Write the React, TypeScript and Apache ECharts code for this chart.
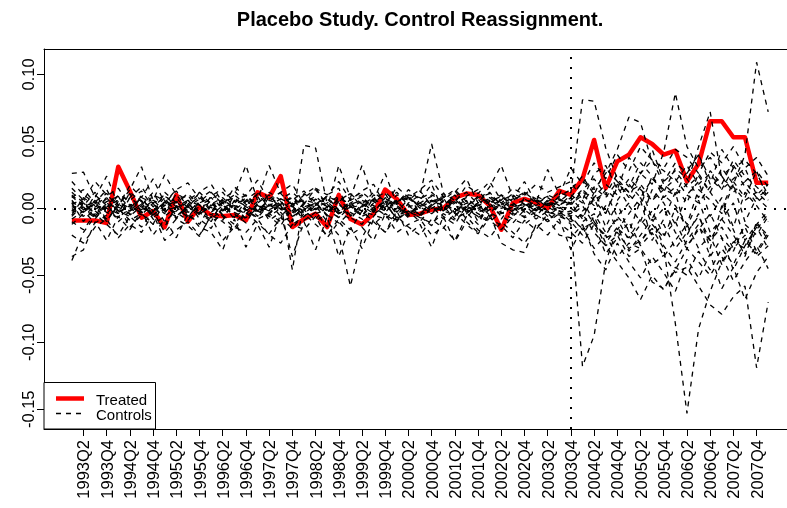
import React, { useEffect, useRef } from "react";
import * as echarts from "echarts";

const quarters = [
  "1993Q1", "1993Q2", "1993Q3", "1993Q4", "1994Q1", "1994Q2", "1994Q3", "1994Q4",
  "1995Q1", "1995Q2", "1995Q3", "1995Q4", "1996Q1", "1996Q2", "1996Q3", "1996Q4",
  "1997Q1", "1997Q2", "1997Q3", "1997Q4", "1998Q1", "1998Q2", "1998Q3", "1998Q4",
  "1999Q1", "1999Q2", "1999Q3", "1999Q4", "2000Q1", "2000Q2", "2000Q3", "2000Q4",
  "2001Q1", "2001Q2", "2001Q3", "2001Q4", "2002Q1", "2002Q2", "2002Q3", "2002Q4",
  "2003Q1", "2003Q2", "2003Q3", "2003Q4", "2004Q1", "2004Q2", "2004Q3", "2004Q4",
  "2005Q1", "2005Q2", "2005Q3", "2005Q4", "2006Q1", "2006Q2", "2006Q3", "2006Q4",
  "2007Q1", "2007Q2", "2007Q3", "2007Q4", "2008Q1",
];

const treatmentQuarter = "2003Q4";
const yTicks = [-0.15, -0.1, -0.05, 0, 0.05, 0.1];

const treated = [
  -0.009, -0.009, -0.009, -0.011, 0.031, 0.013, -0.007, -0.002, -0.014, 0.010,
  -0.010, 0.001, -0.005, -0.006, -0.005, -0.009, 0.012, 0.008, 0.024, -0.014,
  -0.008, -0.004, -0.014, 0.010, -0.008, -0.012, -0.004, 0.014, 0.007, -0.005,
  -0.004, -0.001, 0.000, 0.008, 0.011, 0.010, 0.002, -0.016, 0.004, 0.007,
  0.004, 0.000, 0.013, 0.010, 0.022, 0.051, 0.015, 0.035, 0.040, 0.053,
  0.048, 0.040, 0.043, 0.020, 0.033, 0.065, 0.065, 0.053, 0.053, 0.019, 0.019,
];

const control01 = [
  0.012, 0.004, -0.006, 0.009, 0.015, 0.002, -0.004, 0.010, 0.006, -0.008,
  0.003, 0.011, -0.002, 0.007, 0.013, 0.004, -0.006, 0.009, 0.002, -0.010,
  0.047, 0.045, 0.003, -0.004, 0.006, 0.010, -0.003, 0.008, 0.002, -0.006,
  0.004, 0.009, -0.002, 0.006, 0.012, 0.003, -0.005, 0.008, 0.004, -0.003,
  0.006, 0.002, 0.005,
  0.012, 0.081, 0.080, 0.045, 0.022, 0.012, 0.018, 0.006, 0.014, 0.022,
  0.010, 0.004, 0.016, 0.024, 0.012, 0.020, 0.008, 0.014,
];
const control02 = [
  -0.005, 0.008, 0.002, -0.010, 0.004, 0.011, -0.003, -0.012, 0.006, 0.001,
  -0.007, 0.005, 0.012, 0.003, -0.008, 0.002, 0.009, -0.004, 0.006, -0.010,
  0.004, -0.002, 0.010, 0.015, -0.006, 0.003, 0.012, 0.005, -0.009, 0.004,
  0.010, 0.048, 0.012, -0.004, 0.006, -0.010, 0.003, 0.010, -0.002, 0.005,
  -0.006, 0.004, -0.003,
  -0.008, -0.015, -0.010, -0.022, -0.018, -0.030, -0.024, -0.015, -0.030, -0.086,
  -0.153, -0.090, -0.062, -0.040, -0.025, -0.030, -0.012, -0.020,
];
const control03 = [
  -0.039, -0.018, -0.006, 0.004, -0.010, -0.002, 0.006, -0.008, -0.014, 0.002,
  -0.004, -0.012, 0.003, -0.006, -0.015, -0.002, 0.005, -0.009, -0.003, -0.012,
  -0.006, 0.002, -0.010, -0.020, -0.058, -0.022, -0.006, 0.004, -0.008, -0.002,
  -0.010, 0.001, -0.006, -0.012, 0.002, -0.004, -0.009, -0.016, -0.006, 0.002,
  -0.005, -0.010, -0.004,
  -0.012, -0.118, -0.095, -0.040, -0.015, -0.022, -0.008, -0.020, -0.012, -0.030,
  -0.018, -0.006, -0.024, -0.014, -0.030, -0.020, -0.036, -0.028,
];
const control04 = [
  0.006, -0.004, 0.010, 0.002, -0.007, 0.008, 0.001, -0.005, 0.012, 0.004,
  -0.006, 0.003, -0.010, 0.006, 0.001, -0.008, 0.004, -0.004, 0.004, -0.046,
  0.006, 0.004, -0.005, 0.009, 0.002, -0.006, 0.008, -0.003, 0.006, 0.010,
  -0.004, 0.003, 0.008, -0.006, 0.002, 0.007, -0.003, -0.008, 0.004, -0.002,
  0.003, -0.006, 0.001,
  -0.006, -0.016, -0.010, -0.028, -0.020, -0.036, -0.030, -0.042, -0.035, -0.048,
  -0.044, -0.058, -0.072, -0.079, -0.066, -0.058, -0.119, -0.070,
];
const control05 = [
  0.020, 0.010, 0.004, 0.014, -0.002, 0.008, 0.016, 0.003, -0.004, 0.011,
  0.006, -0.003, 0.009, 0.015, 0.004, 0.010, -0.002, 0.007, 0.012, 0.001,
  0.008, 0.014, 0.003, -0.004, 0.007, 0.012, 0.005, 0.000, 0.010, 0.006,
  0.013, 0.002, 0.008, 0.014, 0.005, -0.002, 0.009, 0.004, 0.011, 0.007,
  0.002, 0.010, 0.006,
  0.004, 0.012, 0.008, 0.018, 0.010, 0.022, 0.014, 0.006, 0.020, 0.028,
  0.016, 0.024, 0.012, 0.030, 0.018, 0.040, 0.109, 0.072,
];
const control06 = [
  -0.002, 0.006, -0.008, 0.003, 0.009, -0.005, 0.002, 0.012, -0.003, 0.005,
  0.010, -0.004, 0.001, -0.009, 0.006, 0.002, 0.011, 0.004, -0.006, 0.003,
  -0.002, 0.007, 0.001, -0.007, 0.004, 0.009, -0.001, 0.005, 0.012, 0.002,
  -0.005, 0.006, 0.002, 0.010, -0.003, 0.004, 0.008, 0.001, 0.006, 0.011,
  0.004, 0.008, 0.002,
  0.010, 0.004, 0.016, 0.008, 0.020, 0.012, 0.026, 0.018, 0.042, 0.086,
  0.046, 0.030, 0.038, 0.024, 0.032, 0.020, 0.028, 0.016,
];
const control07 = [
  0.004, -0.010, 0.001, 0.007, -0.004, 0.012, 0.005, -0.002, 0.008, -0.006,
  0.002, 0.009, -0.003, 0.004, -0.007, 0.006, 0.013, -0.001, 0.003, 0.008,
  -0.004, 0.003, 0.009, -0.002, 0.005, -0.006, 0.004, 0.011, -0.003, 0.007,
  0.002, -0.004, 0.006, 0.003, -0.008, 0.005, 0.012, 0.002, -0.005, 0.008,
  0.001, -0.003, 0.007,
  0.003, 0.010, 0.002, 0.014, 0.006, 0.018, 0.008, 0.022, 0.014, 0.010,
  0.018, 0.046, 0.072, 0.022, 0.016, 0.006, 0.012, 0.004,
];
const control08 = [
  0.010, 0.002, 0.012, -0.004, 0.005, 0.000, 0.009, -0.006, 0.004, 0.013,
  0.001, 0.007, 0.004, -0.005, 0.010, 0.003, -0.003, 0.012, 0.006, -0.002,
  0.011, 0.005, -0.006, 0.008, 0.003, -0.002, 0.010, 0.006, 0.001, -0.007,
  0.007, 0.012, 0.004, -0.003, 0.009, 0.014, 0.002, 0.006, 0.010, 0.003,
  0.009, 0.005, 0.012,
  0.008, 0.020, 0.014, 0.026, 0.044, 0.068, 0.064, 0.034, 0.028, 0.020,
  0.032, 0.018, 0.026, 0.014, 0.022, 0.030, 0.010, 0.018,
];
const control09 = [
  -0.012, -0.004, 0.006, -0.009, 0.002, -0.014, -0.005, 0.004, -0.010, -0.002,
  0.005, -0.008, -0.015, 0.001, -0.004, -0.011, 0.003, -0.006, -0.013, 0.002,
  -0.009, -0.003, -0.014, 0.004, -0.007, -0.012, 0.001, -0.005, -0.010, 0.003,
  -0.006, -0.013, 0.002, -0.008, -0.003, -0.012, 0.004, -0.006, -0.011, -0.001,
  -0.008, -0.002, -0.006,
  -0.010, -0.004, -0.018, -0.028, -0.040, -0.052, -0.068, -0.050, -0.061, -0.044,
  -0.050, -0.032, -0.046, -0.030, -0.042, -0.024, -0.034, -0.020,
];
const control10 = [
  0.026, 0.027, 0.008, 0.024, 0.002, 0.014, 0.031, 0.006, 0.025, 0.010,
  0.000, 0.012, 0.018, 0.004, 0.010, 0.032, 0.006, 0.032, 0.011, 0.002,
  0.010, 0.016, 0.000, 0.032, 0.008, 0.032, 0.006, 0.026, 0.003, 0.014,
  0.006, 0.018, -0.002, 0.012, 0.022, 0.004, 0.016, 0.032, 0.008, 0.020,
  0.004, 0.029, 0.010,
  0.030, 0.018, 0.034, 0.022, 0.040, 0.028, 0.046, 0.036, 0.030, 0.044,
  0.038, 0.026, 0.042, 0.034, 0.046, 0.030, 0.038, 0.024,
];
const control11 = [
  -0.036, -0.031, -0.010, -0.024, -0.006, -0.016, -0.002, -0.020, -0.008, -0.022,
  -0.004, -0.014, -0.018, -0.031, -0.008, -0.029, -0.012, -0.029, -0.004, -0.036,
  -0.010, -0.031, -0.006, -0.036, -0.014, -0.030, -0.008, -0.018, -0.002, -0.020,
  -0.012, -0.029, -0.006, -0.025, -0.010, -0.018, -0.004, -0.026, -0.031, -0.033,
  -0.012, -0.020, -0.008,
  -0.031, -0.014, -0.030, -0.020, -0.036, -0.026, -0.030, -0.055, -0.060, -0.046,
  -0.030, -0.040, -0.050, -0.036, -0.054, -0.040, -0.028, -0.045,
];
const control12 = [
  0.002, -0.003, 0.005, 0.000, -0.004, 0.003, -0.001, 0.006, -0.002, 0.001,
  0.004, -0.005, 0.002, 0.006, -0.001, -0.004, 0.003, 0.000, 0.005, -0.003,
  0.001, 0.004, -0.002, 0.003, -0.005, 0.002, 0.006, -0.001, 0.002, -0.004,
  0.003, 0.000, 0.005, -0.002, 0.004, -0.003, 0.001, 0.006, -0.001, 0.003,
  -0.002, 0.004, 0.000,
  0.004, -0.008, 0.012, -0.004, 0.016, 0.002, -0.010, 0.014, 0.004, -0.012,
  0.010, 0.020, -0.006, 0.008, -0.014, 0.012, 0.002, -0.010,
];
const control13 = [
  -0.006, 0.003, -0.002, -0.008, 0.001, -0.004, 0.004, -0.007, 0.000, -0.003,
  -0.009, 0.001, -0.005, 0.002, -0.003, -0.007, 0.000, -0.004, 0.003, -0.006,
  -0.002, -0.008, 0.002, -0.004, 0.001, -0.006, -0.002, 0.003, -0.007, -0.001,
  -0.005, 0.002, -0.008, -0.001, -0.004, 0.003, -0.006, -0.002, 0.001, -0.007,
  -0.003, 0.001, -0.004,
  -0.002, -0.010, -0.004, -0.018, -0.008, -0.024, -0.012, -0.002, -0.020, -0.010,
  -0.028, -0.016, -0.004, -0.022, -0.032, -0.012, -0.020, -0.006,
];
const control14 = [
  0.008, 0.014, 0.004, -0.002, 0.010, 0.006, 0.013, 0.001, 0.009, 0.004,
  0.011, 0.002, 0.007, 0.012, 0.000, 0.008, 0.004, 0.010, -0.001, 0.006,
  0.013, 0.002, 0.009, 0.005, 0.011, 0.001, 0.007, 0.012, 0.004, 0.009,
  0.000, 0.010, 0.006, 0.013, 0.002, 0.008, 0.011, 0.003, 0.007, 0.012,
  0.005, 0.009, 0.003,
  0.006, 0.014, 0.022, 0.010, 0.026, 0.016, 0.034, 0.024, 0.012, 0.030,
  0.022, 0.008, 0.028, 0.018, 0.036, 0.024, 0.016, 0.008,
];
const control15 = [
  -0.010, -0.016, -0.004, -0.012, -0.020, -0.006, -0.014, -0.002, -0.018, -0.008,
  -0.013, -0.021, -0.005, -0.010, -0.017, -0.003, -0.011, -0.019, -0.007, -0.015,
  -0.004, -0.012, -0.020, -0.008, -0.016, -0.002, -0.010, -0.018, -0.006, -0.014,
  -0.020, -0.008, -0.015, -0.003, -0.012, -0.019, -0.007, -0.013, -0.022, -0.009,
  -0.016, -0.004, -0.011,
  -0.018, -0.026, -0.012, -0.034, -0.022, -0.010, -0.028, -0.018, -0.036, -0.024,
  -0.012, -0.030, -0.020, -0.042, -0.026, -0.014, -0.032, -0.018,
];
const control16 = [
  0.015, 0.006, 0.020, 0.010, 0.002, 0.017, 0.008, 0.022, 0.004, 0.014,
  0.019, 0.007, 0.013, 0.001, 0.016, 0.009, 0.021, 0.005, 0.012, 0.018,
  0.003, 0.015, 0.010, 0.020, 0.006, 0.013, 0.018, 0.002, 0.016, 0.008,
  0.014, 0.021, 0.009, 0.004, 0.017, 0.011, 0.020, 0.006, 0.015, 0.010,
  0.018, 0.012, 0.016,
  0.020, 0.006, 0.026, 0.032, 0.014, 0.038, 0.026, 0.044, 0.020, 0.034,
  0.026, 0.040, 0.018, 0.044, 0.030, 0.036, 0.026, 0.010,
];
const control17 = [
  -0.003, 0.001, -0.008, 0.004, -0.002, -0.006, 0.002, -0.004, 0.005, -0.007,
  0.000, -0.003, 0.006, -0.005, 0.002, -0.001, -0.007, 0.003, -0.002, 0.004,
  -0.006, 0.000, 0.005, -0.003, -0.008, 0.002, -0.004, 0.001, 0.006, -0.005,
  0.001, -0.004, 0.003, 0.007, -0.002, 0.000, -0.006, 0.004, -0.003, 0.002,
  0.005, -0.002, 0.001,
  0.000, -0.006, 0.008, -0.014, 0.004, -0.018, 0.006, -0.024, -0.008, 0.012,
  -0.020, -0.004, -0.030, 0.002, -0.016, -0.036, -0.010, -0.024,
];
const control18 = [
  -0.020, -0.026, -0.014, -0.008, -0.022, -0.012, -0.018, -0.004, -0.024, -0.016,
  -0.010, -0.020, -0.006, -0.024, -0.014, -0.018, -0.008, -0.020, -0.026, -0.012,
  -0.016, -0.006, -0.022, -0.010, -0.020, -0.014, -0.024, -0.004, -0.018, -0.012,
  -0.008, -0.020, -0.014, -0.024, -0.006, -0.016, -0.022, -0.010, -0.018, -0.026,
  -0.014, -0.008, -0.020,
  -0.022, -0.012, -0.034, -0.046, -0.026, -0.040, -0.052, -0.036, -0.048, -0.062,
  -0.038, -0.052, -0.034, -0.060, -0.044, -0.068, -0.048, -0.036,
];
const control19 = [
  0.003, 0.007, -0.001, 0.005, 0.009, 0.001, -0.003, 0.006, 0.002, 0.008,
  -0.002, 0.004, 0.008, 0.000, 0.005, 0.010, 0.002, -0.002, 0.007, 0.003,
  0.006, -0.001, 0.004, 0.009, 0.001, 0.005, -0.003, 0.007, 0.003, 0.008,
  0.002, 0.006, -0.002, 0.004, 0.008, 0.000, 0.005, 0.009, 0.002, -0.001,
  0.006, 0.003, 0.008,
  0.002, 0.014, 0.006, -0.004, 0.018, 0.010, 0.002, 0.024, 0.008, 0.016,
  0.004, 0.026, 0.012, 0.000, 0.020, 0.008, 0.028, 0.006,
];
const control20 = [
  -0.001, -0.006, 0.002, -0.003, -0.007, 0.000, -0.005, 0.003, -0.002, -0.006,
  0.001, -0.004, -0.008, -0.001, 0.002, -0.005, -0.002, -0.006, 0.000, -0.003,
  0.003, -0.004, -0.001, -0.007, 0.001, -0.002, -0.005, -0.008, 0.000, -0.003,
  -0.006, 0.002, -0.002, -0.005, 0.001, -0.007, -0.001, 0.003, -0.004, -0.006,
  0.000, -0.003, -0.005,
  -0.006, 0.002, -0.012, -0.020, -0.006, -0.016, -0.026, -0.010, 0.000, -0.018,
  -0.030, -0.014, -0.024, -0.008, -0.020, -0.034, -0.016, -0.004,
];
const control21 = [
  0.009, 0.001, 0.005, 0.011, 0.003, -0.002, 0.008, 0.004, 0.010, 0.001,
  0.006, 0.012, 0.003, 0.008, -0.001, 0.005, 0.010, 0.002, 0.007, 0.012,
  0.004, 0.009, 0.001, 0.006, 0.011, 0.003, 0.008, 0.000, 0.005, 0.010,
  0.008, 0.003, 0.011, 0.006, 0.001, 0.009, 0.004, 0.010, 0.005, 0.012,
  0.007, 0.001, 0.009,
  0.014, 0.024, 0.010, 0.030, 0.020, 0.008, 0.026, 0.036, 0.018, 0.010,
  0.028, 0.040, 0.022, 0.014, 0.030, 0.016, 0.004, 0.012,
];
const control22 = [
  -0.008, -0.002, -0.011, -0.005, 0.000, -0.009, -0.004, -0.012, -0.006, 0.001,
  -0.007, -0.003, -0.010, -0.005, -0.012, -0.001, -0.008, -0.004, -0.010, -0.006,
  -0.001, -0.009, -0.005, -0.011, -0.003, -0.008, -0.012, -0.004, -0.009, -0.002,
  -0.007, -0.011, -0.004, -0.009, -0.001, -0.006, -0.010, -0.003, -0.008, -0.012,
  -0.005, -0.009, -0.002,
  -0.010, -0.020, -0.006, -0.026, -0.014, -0.032, -0.020, -0.008, -0.028, -0.040,
  -0.024, -0.012, -0.036, -0.022, -0.046, -0.028, -0.014, -0.030,
];
const control23 = [
  0.005, -0.001, 0.003, 0.008, -0.003, 0.002, 0.007, -0.002, 0.004, 0.000,
  0.006, 0.002, -0.003, 0.005, 0.008, 0.001, -0.002, 0.006, 0.003, 0.009,
  0.000, 0.004, 0.007, -0.001, 0.003, 0.006, 0.002, -0.002, 0.005, 0.008,
  0.001, 0.005, 0.009, 0.002, -0.001, 0.004, 0.007, 0.000, 0.003, 0.006,
  -0.002, 0.005, 0.002,
  0.008, -0.002, 0.006, 0.012, -0.006, 0.004, 0.016, -0.008, 0.010, 0.002,
  -0.012, 0.014, 0.006, -0.004, 0.018, -0.010, 0.008, 0.000,
];
const control24 = [
  0.000, 0.004, -0.004, 0.001, 0.006, -0.002, 0.003, -0.005, 0.002, 0.005,
  -0.003, 0.001, 0.004, -0.002, 0.003, 0.007, -0.004, 0.002, 0.000, -0.005,
  0.004, 0.001, -0.003, 0.005, 0.000, 0.003, -0.002, 0.006, -0.004, 0.001,
  0.004, -0.002, 0.000, 0.005, -0.003, 0.002, 0.006, -0.004, 0.001, 0.003,
  -0.001, 0.006, -0.002,
  -0.004, 0.006, -0.010, 0.002, -0.016, -0.004, 0.008, -0.012, -0.022, 0.000,
  -0.014, 0.006, -0.018, -0.008, 0.004, -0.024, -0.012, -0.002,
];

const controls = [
  control01, control02, control03, control04, control05, control06,
  control07, control08, control09, control10, control11, control12,
  control13, control14, control15, control16, control17, control18,
  control19, control20, control21, control22, control23, control24,
];

const FONT = "'Liberation Sans', Arial, Helvetica, sans-serif";

export default function App() {
  const ref = useRef<HTMLDivElement>(null);

  useEffect(() => {
    if (!ref.current) return;
    const chart = echarts.init(ref.current, null, { renderer: "svg" });

    const tickIdx = quarters
      .map((q, i) => (q.endsWith("Q2") || q.endsWith("Q4") ? i : -1))
      .filter((i) => i >= 0);
    const vIdx = quarters.indexOf(treatmentQuarter);

    const series: any[] = [
      {
        type: "line",
        name: "Treated",
        data: treated.map((v, i) => [i, v]),
        symbol: "none",
        silent: true,
        lineStyle: { color: "#ff0000", width: 4.5, cap: "butt", join: "round" },
      },
      ...controls.map((c, k) => ({
        type: "line",
        name: "Control " + (k + 1),
        data: c.map((v, i) => [i, v]),
        symbol: "none",
        silent: true,
        lineStyle: { color: "#000000", width: 1.3, type: [5, 5] },
      })),
      {
        type: "line",
        name: "ref",
        data: [],
        silent: true,
        markLine: {
          silent: true,
          symbol: ["none", "none"],
          label: { show: false },
          lineStyle: { color: "#000", width: 2, type: [2, 8] },
          data: [{ yAxis: 0 }, { xAxis: vIdx }],
        },
      },
    ];

    const xMin = -2.4;
    const xMax = 61.62;

    chart.setOption({
      animation: false,
      grid: {
        left: 44,
        top: 49,
        right: 0,
        height: 380,
        show: false,
      },
      xAxis: [
        {
          type: "value",
          min: xMin,
          max: xMax,
          splitLine: { show: false },
          axisLine: { show: true, onZero: false, lineStyle: { color: "#000", width: 1 } },
          axisTick: {
            show: true,
            length: 7,
            customValues: tickIdx,
            lineStyle: { color: "#000", width: 1 },
          },
          axisLabel: {
            customValues: tickIdx,
            rotate: 90,
            margin: 11,
            color: "#000",
            fontSize: 16.5,
            fontFamily: FONT,
            formatter: (v: number) => quarters[Math.round(v)] ?? "",
          },
        },
        {
          type: "value",
          position: "top",
          min: xMin,
          max: xMax,
          splitLine: { show: false },
          axisLine: { show: true, onZero: false, lineStyle: { color: "#000", width: 1 } },
          axisTick: { show: false },
          axisLabel: { show: false },
        },
      ],
      yAxis: {
        type: "value",
        min: -0.1647,
        max: 0.1189,
        splitLine: { show: false },
        axisLine: { show: true, onZero: false, lineStyle: { color: "#000", width: 1 } },
        axisTick: {
          show: true,
          length: 7,
          customValues: yTicks,
          lineStyle: { color: "#000", width: 1 },
        },
        axisLabel: {
          customValues: yTicks,
          rotate: 90,
          margin: 8,
          color: "#000",
          fontSize: 16.5,
          fontFamily: FONT,
          formatter: (v: number) => v.toFixed(2),
        },
      },
      graphic: [
        {
          type: "text",
          x: 420,
          y: 19,
          z: 100,
          style: {
            text: "Placebo Study. Control Reassignment.",
            fill: "#000",
            fontSize: 20,
            fontWeight: "bold",
            fontFamily: FONT,
            align: "center",
            verticalAlign: "middle",
            textAlign: "center",
            textVerticalAlign: "middle",
          },
        },
        {
          type: "rect",
          z: 100,
          shape: { x: 44, y: 382.5, width: 111.5, height: 46.5 },
          style: { fill: "#fff", stroke: "#000", lineWidth: 1 },
        },
        {
          type: "line",
          z: 101,
          shape: { x1: 56, y1: 398.5, x2: 84, y2: 398.5 },
          style: { stroke: "#ff0000", lineWidth: 4.5 },
        },
        {
          type: "line",
          z: 101,
          shape: { x1: 56, y1: 413.5, x2: 84, y2: 413.5 },
          style: { stroke: "#000", lineWidth: 1.3, lineDash: [5, 5] },
        },
        {
          type: "text",
          x: 96,
          y: 399,
          z: 101,
          style: {
            text: "Treated",
            fill: "#000",
            fontSize: 15,
            fontFamily: FONT,
            align: "left",
            verticalAlign: "middle",
            textAlign: "left",
            textVerticalAlign: "middle",
          },
        },
        {
          type: "text",
          x: 96,
          y: 414.5,
          z: 101,
          style: {
            text: "Controls",
            fill: "#000",
            fontSize: 15,
            fontFamily: FONT,
            align: "left",
            verticalAlign: "middle",
            textAlign: "left",
            textVerticalAlign: "middle",
          },
        },
      ],
      series,
    });

    return () => chart.dispose();
  }, []);

  return (
    <div
      ref={ref}
      style={{ position: "fixed", left: 0, top: 0, width: 787, height: 508 }}
    />
  );
}
